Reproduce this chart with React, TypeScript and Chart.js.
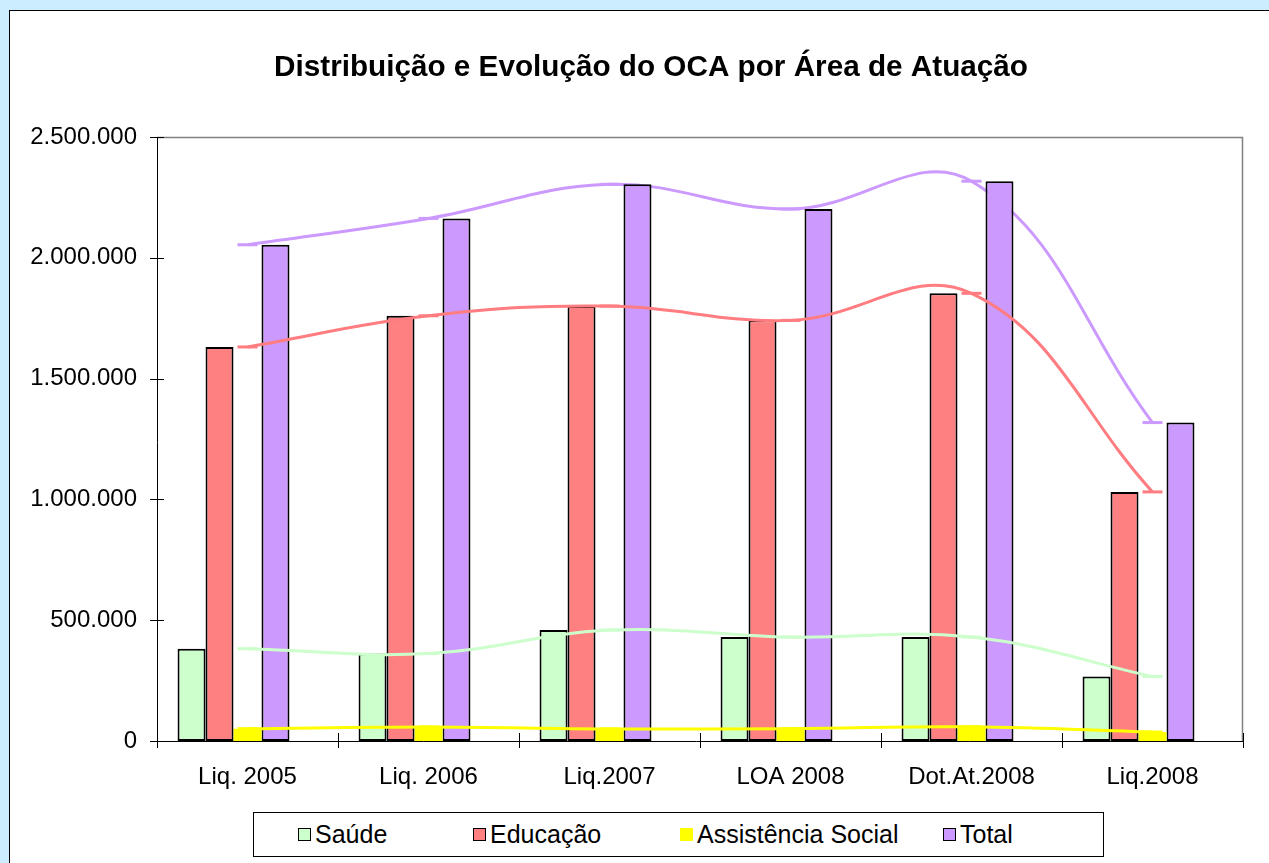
import React, { useEffect, useRef } from "react";
import { Chart, registerables } from "chart.js";

Chart.register(...registerables);

const categories = ["Liq. 2005", "Liq. 2006", "Liq.2007", "LOA 2008", "Dot.At.2008", "Liq.2008"];
const saude = [382000, 362000, 459000, 430000, 430000, 267000];
const educacao = [1631000, 1760000, 1800000, 1741000, 1853000, 1031000];
const assistencia = [51000, 58000, 50000, 51000, 59000, 37000];
const total = [2054000, 2163000, 2304000, 2202000, 2317000, 1318000];
const yTickValues = [0, 500000, 1000000, 1500000, 2000000, 2500000];
const seriesNames = ["Saúde", "Educação", "Assistência Social", "Total"];
const barColors = ["#CCFFCC", "#FF8080", "#FFFF00", "#CC99FF"];
const barBorders = ["#000000", "#000000", "rgba(0,0,0,0)", "#000000"];
const lineColors = ["#CCFFCC", "#FF7C80", "#FFFF00", "#CC99FF"];
const titleText = "Distribuição e Evolução do OCA por Área de Atuação";

const FONT = '"Liberation Sans", Arial, Helvetica, sans-serif';

function fmt(v: number): string {
  return String(v).replace(/\B(?=(\d{3})+(?!\d))/g, ".");
}

// Title drawn centred on the (wider, partly cropped) chart panel
const titlePlugin = {
  id: "panelTitle",
  afterDraw(chart: any) {
    const { ctx } = chart;
    ctx.save();
    ctx.fillStyle = "#000000";
    ctx.font = `bold 29.7px ${FONT}`;
    ctx.textAlign = "center";
    ctx.textBaseline = "middle";
    ctx.fillText(titleText, chart.width / 2, 57);
    ctx.restore();
  },
};

const framePlugin = {
  id: "framePlugin",
  beforeDatasetsDraw(chart: any) {
    const { ctx, chartArea } = chart;
    const { left, right, top, bottom } = chartArea;
    ctx.save();
    ctx.strokeStyle = "#808080";
    ctx.lineWidth = 1.5;
    ctx.beginPath();
    ctx.moveTo(left, top + 0.5);
    ctx.lineTo(right, top + 0.5);
    ctx.moveTo(right - 0.5, top);
    ctx.lineTo(right - 0.5, bottom);
    ctx.stroke();
    ctx.restore();
  },
  afterDatasetsDraw(chart: any) {
    const { ctx, chartArea, scales } = chart;
    const { left, right, top, bottom } = chartArea;
    const y = scales.y;
    const x = scales.x;
    ctx.save();
    ctx.strokeStyle = "#000000";
    ctx.lineWidth = 1;
    ctx.beginPath();
    ctx.moveTo(left + 0.5, top);
    ctx.lineTo(left + 0.5, bottom + 7);
    ctx.moveTo(left - 7, bottom + 0.5);
    ctx.lineTo(right, bottom + 0.5);
    yTickValues.forEach((v) => {
      const py = Math.round(y.getPixelForValue(v)) + 0.5;
      ctx.moveTo(left - 7, py);
      ctx.lineTo(left + 7, py);
    });
    const centers = categories.map((_, i) => x.getPixelForValue(i));
    const bounds: number[] = [left];
    for (let i = 1; i < centers.length; i++) bounds.push((centers[i - 1] + centers[i]) / 2);
    bounds.push(right);
    bounds.forEach((bx) => {
      const px = Math.round(bx) + 0.5;
      ctx.moveTo(px, bottom - 8);
      ctx.lineTo(px, bottom + 7);
    });
    ctx.stroke();
    ctx.restore();
  },
};

export default function App() {
  const canvasRef = useRef<HTMLCanvasElement | null>(null);

  useEffect(() => {
    const canvas = canvasRef.current;
    if (!canvas) return;
    const barSeries = [saude, educacao, assistencia, total];
    const datasets: any[] = [];
    // lines (Total behind bars, others in front)
    const lineOrders = [1, 1, 1, 3];
    barSeries.forEach((d, i) => {
      datasets.push({
        type: "line",
        label: seriesNames[i] + " (linha)",
        data: d,
        borderColor: lineColors[i],
        backgroundColor: lineColors[i],
        borderWidth: 3,
        tension: 0.4,
        fill: false,
        pointStyle: "line",
        pointRadius: 10,
        pointHoverRadius: 10,
        pointBorderWidth: 3,
        pointBorderColor: lineColors[i],
        order: lineOrders[i],
      });
    });
    barSeries.forEach((d, i) => {
      datasets.push({
        type: "bar",
        label: seriesNames[i],
        data: d,
        backgroundColor: barColors[i],
        borderColor: barBorders[i],
        borderWidth: i === 2 ? 0 : 2,
        borderSkipped: false,
        barPercentage: 1,
        categoryPercentage: 0.773,
        order: 2,
      });
    });
    // empty slot (keeps the Excel-style group spacing)
    datasets.push({
      type: "bar",
      label: "",
      data: categories.map(() => null),
      backgroundColor: "rgba(0,0,0,0)",
      borderWidth: 0,
      barPercentage: 1,
      categoryPercentage: 0.773,
      order: 2,
    });

    const chart = new Chart(canvas, {
      type: "bar",
      data: { labels: categories, datasets },
      options: {
        responsive: false,
        animation: false,
        layout: { padding: { left: 0, right: 49, top: 126, bottom: 0 } },
        plugins: {
          legend: { display: false },
          tooltip: { enabled: false },
          title: { display: false },
        },
        scales: {
          x: {
            offset: true,
            grid: { display: false, offset: true },
            border: { display: false },
            ticks: {
              color: "#000000",
              font: { family: FONT, size: 24 },
              padding: 14,
              maxRotation: 0,
              autoSkip: false,
            },
            afterFit(scale: any) {
              scale.height = 122;
            },
          },
          y: {
            min: 0,
            max: 2500000,
            grid: { display: false },
            border: { display: false },
            ticks: {
              color: "#000000",
              font: { family: FONT, size: 24 },
              padding: 12,
              callback: (v: any) => fmt(Number(v)),
            },
            afterBuildTicks(scale: any) {
              scale.ticks = yTickValues.map((v) => ({ value: v }));
            },
            afterFit(scale: any) {
              scale.width = 147;
            },
          },
        },
      },
      plugins: [framePlugin, titlePlugin],
    });
    return () => chart.destroy();
  }, []);

  const legendSquareX = [298, 473, 680, 943];

  return (
    <div
      style={{
        position: "fixed",
        left: 0,
        top: 0,
        width: 1269,
        height: 863,
        overflow: "hidden",
        background: "#CCECFF",
      }}
    >
      <div
        style={{
          position: "absolute",
          left: 9,
          top: 10,
          width: 1300,
          height: 900,
          background: "#FFFFFF",
          borderLeft: "1px solid #000000",
          borderTop: "1px solid #000000",
        }}
      />
      <canvas
        ref={canvasRef}
        width={1282}
        height={852}
        style={{ position: "absolute", left: 10, top: 11, width: 1282, height: 852 }}
      />
      <div
        style={{
          position: "absolute",
          left: 253,
          top: 812,
          width: 851,
          height: 45,
          boxSizing: "border-box",
          border: "1px solid #000000",
          background: "#FFFFFF",
          fontFamily: FONT,
          fontSize: 25,
          color: "#000000",
        }}
      >
        {seriesNames.map((name, i) => (
          <div
            key={name}
            style={{
              position: "absolute",
              left: legendSquareX[i] - 254,
              top: 0,
              height: 43,
              display: "flex",
              alignItems: "center",
              whiteSpace: "nowrap",
            }}
          >
            <span
              style={{
                display: "inline-block",
                width: 13,
                height: 13,
                boxSizing: "border-box",
                background: barColors[i],
                border: i === 2 ? "none" : "1px solid #000000",
                marginRight: 4,
              }}
            />
            <span style={{ lineHeight: "43px" }}>{name}</span>
          </div>
        ))}
      </div>
    </div>
  );
}
